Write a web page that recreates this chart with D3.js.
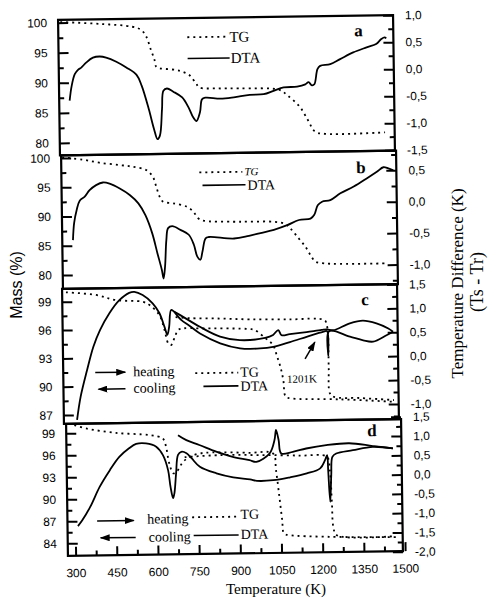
<!DOCTYPE html>
<html>
<head>
<meta charset="utf-8">
<script src="https://cdn.jsdelivr.net/npm/d3@7"></script>
<style>
  body { margin: 0; background: #fff; }
</style>
</head>
<body>
<svg id="chart" width="488" height="601"></svg>
<script>
// ---- data: [temperature K, value] ----
const aTG = [[280,100.1],[424,99.7],[542,99.15],[574,98.6],[592,97.5],[609,95.2],[621,93.6],[627,92.45],[639,92.2],[700,91.85],[723,91.55],[747,91.0],[771,89.6],[783,88.9],[845,88.7],[929,88.65],[1075,88.3],[1103,87.4],[1147,85.5],[1177,83.2],[1202,81.3],[1238,80.9],[1457,81.0]];
const aDTA = [[310,-0.50],[318,-0.23],[330,-0.01],[342,0.07],[354,0.11],[372,0.20],[397,0.29],[421,0.31],[445,0.29],[482,0.21],[518,0.10],[555,-0.04],[573,-0.24],[598,-0.68],[616,-1.05],[628,-1.235],[637,-1.17],[646,-0.68],[652,-0.34],[665,-0.30],[688,-0.36],[720,-0.47],[743,-0.66],[759,-0.84],[771,-0.91],[784,-0.75],[792,-0.51],[804,-0.48],[859,-0.50],[908,-0.48],[966,-0.44],[1017,-0.43],[1053,-0.37],[1090,-0.31],[1139,-0.30],[1169,-0.26],[1181,-0.22],[1193,-0.28],[1202,-0.26],[1214,0.02],[1224,0.08],[1261,0.11],[1297,0.20],[1345,0.32],[1394,0.41],[1429,0.47],[1448,0.56],[1460,0.59],[1466,0.57]];

const bTG = [[276,100.1],[350,99.68],[411,99.11],[484,98.67],[532,98.34],[581,97.74],[605,96.58],[617,94.87],[629,93.15],[641,92.29],[678,92.0],[727,91.38],[751,90.5],[768,89.37],[787,88.95],[897,88.7],[952,88.67],[1042,88.6],[1085,88.19],[1103,87.44],[1133,85.7],[1157,84.26],[1175,82.84],[1193,81.67],[1224,81.38],[1285,81.23],[1455,81.23]];
const bDTA = [[311,-0.54],[316,-0.27],[326,-0.06],[338,0.09],[356,0.15],[374,0.25],[398,0.33],[423,0.37],[447,0.35],[484,0.27],[520,0.165],[551,0.03],[576,-0.16],[600,-0.45],[618,-0.77],[633,-1.03],[639,-1.17],[645,-0.98],[651,-0.56],[658,-0.37],[673,-0.34],[703,-0.40],[733,-0.48],[751,-0.64],[763,-0.83],[774,-0.88],[782,-0.75],[794,-0.54],[806,-0.52],[898,-0.55],[952,-0.51],[994,-0.47],[1043,-0.42],[1092,-0.35],[1135,-0.27],[1177,-0.25],[1191,-0.19],[1204,-0.04],[1220,0.016],[1250,0.04],[1287,0.145],[1336,0.25],[1385,0.38],[1421,0.48],[1445,0.55],[1463,0.53],[1481,0.50]];

const cTGheat = [[286,100.0],[396,99.67],[467,99.1],[565,98.88],[590,98.52],[625,97.44],[643,95.85],[656,94.43],[666,94.25],[680,95.09],[692,95.83],[710,96.0],[771,95.98],[954,95.83],[972,95.72],[1009,94.86],[1026,94.46],[1038,94.11],[1050,93.04],[1063,91.8],[1073,90.38],[1081,88.6],[1099,88.43],[1281,88.25],[1475,87.92]];
const cTGcool = [[684,97.21],[735,97.08],[845,96.99],[954,96.86],[1099,96.8],[1226,96.67],[1234,96.14],[1238,95.26],[1239,91.7],[1242,88.9],[1257,88.52],[1354,88.36],[1475,88.1]];
const cDTAheat = [[320,-1.24],[334,-0.76],[359,-0.20],[383,0.285],[408,0.63],[443,0.98],[480,1.25],[516,1.40],[535,1.42],[565,1.35],[601,1.175],[625,0.97],[643,0.68],[653,0.51],[660,0.68],[668,1.03],[680,0.99],[704,0.91],[772,0.67],[845,0.46],[917,0.38],[1009,0.42],[1038,0.48],[1057,0.58],[1069,0.47],[1099,0.49],[1160,0.53],[1215,0.57],[1235,0.58],[1257,0.56],[1318,0.70],[1366,0.75],[1415,0.69],[1458,0.58],[1475,0.51]];
const cDTAcool = [[680,0.99],[704,0.82],[735,0.69],[772,0.53],[845,0.32],[917,0.21],[990,0.20],[1038,0.23],[1099,0.325],[1160,0.43],[1220,0.53],[1235,0.54],[1238,0.04],[1242,0.54],[1318,0.42],[1366,0.34],[1402,0.31],[1451,0.44],[1475,0.51]];

const dTGheat = [[302,100.1],[345,99.63],[453,98.97],[575,98.6],[623,98.13],[635,96.97],[641,95.6],[649,94.24],[660,93.34],[672,93.54],[684,94.22],[696,94.89],[721,95.56],[756,96.0],[805,96.12],[939,96.0],[1024,95.86],[1034,93.58],[1045,89.94],[1054,86.76],[1060,84.94],[1079,84.7],[1224,84.39],[1467,84.22]];
const dTGcool = [[702,95.53],[830,95.74],[975,95.67],[1121,95.52],[1220,95.3],[1230,93.49],[1236,88.92],[1240,85.73],[1252,84.6],[1467,84.36]];
const dDTAheat = [[310,-1.22],[326,-1.07],[356,-0.72],[391,-0.21],[429,0.22],[464,0.56],[500,0.78],[526,0.89],[562,0.90],[599,0.81],[623,0.59],[641,0.20],[649,-0.23],[658,-0.53],[663,-0.40],[670,0.11],[678,0.59],[690,0.67],[709,0.63],[727,0.50],[757,0.275],[817,0.10],[878,-0.01],[939,-0.07],[964,-0.11],[1024,-0.10],[1085,-0.03],[1146,0.065],[1195,0.19],[1213,0.40],[1221,0.53],[1224,0.14],[1230,-0.68],[1235,0.01],[1240,0.485],[1254,0.57],[1315,0.65],[1388,0.73],[1461,0.68]];
const dDTAcool = [[679,1.10],[709,0.97],[756,0.84],[817,0.66],[877,0.52],[938,0.43],[963,0.38],[1012,0.60],[1030,0.94],[1036,1.20],[1045,0.94],[1054,0.59],[1096,0.63],[1145,0.71],[1218,0.79],[1302,0.83],[1388,0.75],[1461,0.68]];

// ---- tick labels ----
const tempTicks = [300,450,600,750,900,1050,1200,1350,1500];
const tempMinor = [375,525,675,825,975,1125,1275,1425];
const massTicksAB = [80,85,90,95,100];
const massMinorAB = [82.5,87.5,92.5,97.5];
const massTicksC = [87,90,93,96,99];
const massMinorC = [88.5,91.5,94.5,97.5];
const massTicksD = [84,87,90,93,96,99];
const massMinorD = [85.5,88.5,91.5,94.5,97.5];
const dtaTicksA = [-1.5,-1,-0.5,0,0.5,1];
const dtaTicksB = [-1,-0.5,0,0.5];
const dtaTicksC = [-1,-0.5,0,0.5,1,1.5];
const dtaTicksD = [-2,-1.5,-1,-0.5,0,0.5,1,1.5];
const dtaMinorAB = [-1.25,-0.75,-0.25,0.25,0.75];
const dtaMinorC = [-1.25,-0.75,-0.25,0.25,0.75,1.25];
const dtaMinorD = [-1.75,-1.25,-0.75,-0.25,0.25,0.75,1.25];

const W = 335;
const SANS = "'Liberation Sans', Arial, sans-serif";
const SERIF = "'Liberation Serif', 'Times New Roman', serif";

const svg = d3.select('#chart');
svg.append('rect').attr('width', 488).attr('height', 601).attr('fill', '#fff');

// arrow head
svg.append('defs').append('marker')
    .attr('id', 'arr')
    .attr('markerUnits', 'userSpaceOnUse')
    .attr('markerWidth', 10).attr('markerHeight', 7)
    .attr('refX', 9).attr('refY', 3.5)
    .attr('orient', 'auto')
  .append('path').attr('d', 'M0,0 L10,3.5 L0,7 Z').attr('fill', '#000');

const fmtDec = d3.formatLocale({decimal: ',', thousands: '.', grouping: [3], currency: ['', ''], minus: '-'}).format('.1f');

const x = d3.scaleLinear().domain([272, 1492]).range([0, W]);

const panels = [
  {id: 'a', L: 59, top: 17.5, H: 135.5, massDom: [77.94, 100.47], dtaDom: [-1.51, 1.0],
   mT: massTicksAB, mM: massMinorAB, dT: dtaTicksA, dM: dtaMinorAB,
   tg: [aTG], dta: [aDTA],
   letter: [296, 20.5]},
  {id: 'b', L: 62, top: 153, H: 133.5, massDom: [77.64, 100.46], dtaDom: [-1.312, 0.811],
   mT: massTicksAB, mM: massMinorAB, dT: dtaTicksB, dM: dtaMinorAB,
   tg: [bTG], dta: [bDTA],
   letter: [295, 22]},
  {id: 'c', L: 63, top: 286.5, H: 135, massDom: [86.07, 100.37], dtaDom: [-1.318, 1.504],
   mT: massTicksC, mM: massMinorC, dT: dtaTicksC, dM: dtaMinorC,
   tg: [cTGheat, cTGcool], dta: [cDTAheat, cDTAcool],
   letter: [299, 20.5]},
  {id: 'd', L: 67, top: 421.5, H: 132, massDom: [82.29, 100.3], dtaDom: [-1.986, 1.436],
   mT: massTicksD, mM: massMinorD, dT: dtaTicksD, dM: dtaMinorD,
   tg: [dTGheat, dTGcool], dta: [dDTAheat, dDTAcool],
   letter: [301, 16.5]}
];

function styleAxis(sel, size) {
  sel.select('.domain').remove();
  sel.selectAll('.tick line').attr('stroke', '#000').attr('stroke-width', 2);
  sel.selectAll('.tick text').attr('fill', '#000')
     .style('font-family', SANS).style('font-size', size + 'px');
}

panels.forEach(p => {
  const g = svg.append('g')
      .attr('transform', `translate(${p.L},${p.top}) rotate(-0.8,${W / 2},${p.H / 2})`);
  const yM = d3.scaleLinear().domain(p.massDom).range([p.H, 0]);
  const yT = d3.scaleLinear().domain(p.dtaDom).range([p.H, 0]);

  // left mass axis
  g.append('g').call(d3.axisLeft(yM).tickValues(p.mT).tickSizeInner(-10).tickSizeOuter(0)
      .tickPadding(11).tickFormat(d3.format('d'))).call(styleAxis, 12);
  g.append('g').call(d3.axisLeft(yM).tickValues(p.mM).tickSizeInner(-5).tickSizeOuter(0)
      .tickFormat('')).call(styleAxis, 12);

  // right DTA axis
  g.append('g').attr('transform', `translate(${W},0)`)
      .call(d3.axisRight(yT).tickValues(p.dT).tickSizeInner(-10).tickSizeOuter(0)
      .tickPadding(12).tickFormat(fmtDec)).call(styleAxis, 12);
  g.append('g').attr('transform', `translate(${W},0)`)
      .call(d3.axisRight(yT).tickValues(p.dM).tickSizeInner(-5).tickSizeOuter(0)
      .tickFormat('')).call(styleAxis, 12);

  if (p.id === 'd') {
    g.append('g').attr('transform', `translate(0,${p.H})`)
        .call(d3.axisBottom(x).tickValues(tempTicks).tickSizeInner(-9).tickSizeOuter(0)
        .tickPadding(13).tickFormat(d3.format('d'))).call(styleAxis, 12);
    g.append('g').attr('transform', `translate(0,${p.H})`)
        .call(d3.axisBottom(x).tickValues(tempMinor).tickSizeInner(-5).tickSizeOuter(0)
        .tickFormat('')).call(styleAxis, 12);
  }

  // frame
  g.append('rect').attr('width', W).attr('height', p.H)
      .attr('fill', 'none').attr('stroke', '#000').attr('stroke-width', 2.2);

  const lineM = d3.line().x(d => x(d[0])).y(d => yM(d[1])).curve(d3.curveCatmullRom.alpha(0.5));
  const lineT = d3.line().x(d => x(d[0])).y(d => yT(d[1])).curve(d3.curveCatmullRom.alpha(0.5));

  p.tg.forEach(s => {
    g.append('path').datum(s).attr('d', lineM)
        .attr('fill', 'none').attr('stroke', '#000').attr('stroke-width', 1.8)
        .attr('stroke-dasharray', '2,4');
  });
  p.dta.forEach(s => {
    g.append('path').datum(s).attr('d', lineT)
        .attr('fill', 'none').attr('stroke', '#000').attr('stroke-width', 1.8)
        .attr('stroke-linejoin', 'round');
  });

  // panel letter
  g.append('text').attr('x', p.letter[0]).attr('y', p.letter[1])
      .style('font-family', SERIF).style('font-size', '17px').style('font-weight', 'bold')
      .text(p.id);

  p.g = g;
});

function legLine(g, x1, x2, y, dotted) {
  g.append('line').attr('x1', x1).attr('x2', x2).attr('y1', y).attr('y2', y)
      .attr('stroke', '#000').attr('stroke-width', dotted ? 1.8 : 1.6)
      .attr('stroke-dasharray', dotted ? '2,4' : null);
}
function legText(g, x0, y0, txt, size, italic) {
  g.append('text').attr('x', x0).attr('y', y0)
      .style('font-family', SERIF).style('font-size', size + 'px')
      .style('font-style', italic ? 'italic' : 'normal').text(txt);
}
function arrow(g, x1, y1, x2, y2) {
  g.append('line').attr('x1', x1).attr('y1', y1).attr('x2', x2).attr('y2', y2)
      .attr('stroke', '#000').attr('stroke-width', 1.5).attr('marker-end', 'url(#arr)');
}

// legends
const ga = panels[0].g, gb = panels[1].g, gc = panels[2].g, gd = panels[3].g;
legLine(ga, 129, 170, 19.2, true);  legText(ga, 171, 24.5, 'TG', 15);
legLine(ga, 129, 171, 40.5, false); legText(ga, 172, 45.5, 'DTA', 15);

legLine(gb, 138, 181, 19, true);    legText(gb, 183, 22.5, 'TG', 11, true);
legLine(gb, 141, 184, 32, false);   legText(gb, 186, 37, 'DTA', 14);

arrow(gc, 32, 84.2, 62, 84.2);   legText(gc, 70, 88.5, 'heating', 14);
arrow(gc, 62, 100.8, 35, 100.8); legText(gc, 70, 105, 'cooling', 14);
legLine(gc, 132, 175, 86.2, true);  legText(gc, 177, 90.5, 'TG', 14);
legLine(gc, 140, 175, 99.5, false); legText(gc, 177, 104.5, 'DTA', 14);
legText(gc, 223.5, 97, '1201K', 11);
arrow(gc, 242, 73.5, 252, 56.8);

arrow(gd, 29.7, 97.5, 66.3, 97.5); legText(gd, 79.7, 101, 'heating', 14);
arrow(gd, 68, 114.5, 33, 114.5);   legText(gd, 81, 119, 'cooling', 14);
legLine(gd, 124.7, 171, 95.2, true);   legText(gd, 173, 97.5, 'TG', 14);
legLine(gd, 126, 171, 113.5, false);   legText(gd, 173, 117.5, 'DTA', 14);

// axis titles
svg.append('text').attr('transform', 'translate(22,285) rotate(-90)')
    .attr('text-anchor', 'middle').style('font-family', SANS).style('font-size', '16px')
    .text('Mass (%)');
svg.append('text').attr('transform', 'translate(463,283.5) rotate(-90)')
    .attr('text-anchor', 'middle').style('font-family', SERIF).style('font-size', '17px')
    .text('Temperature Difference (K)');
svg.append('text').attr('transform', 'translate(483,282) rotate(-90)')
    .attr('text-anchor', 'middle').style('font-family', SERIF).style('font-size', '18px')
    .text('(Ts - Tr)');
svg.append('text').attr('x', 276).attr('y', 594)
    .attr('text-anchor', 'middle').style('font-family', SERIF).style('font-size', '15px')
    .text('Temperature (K)');
</script>
</body>
</html>
